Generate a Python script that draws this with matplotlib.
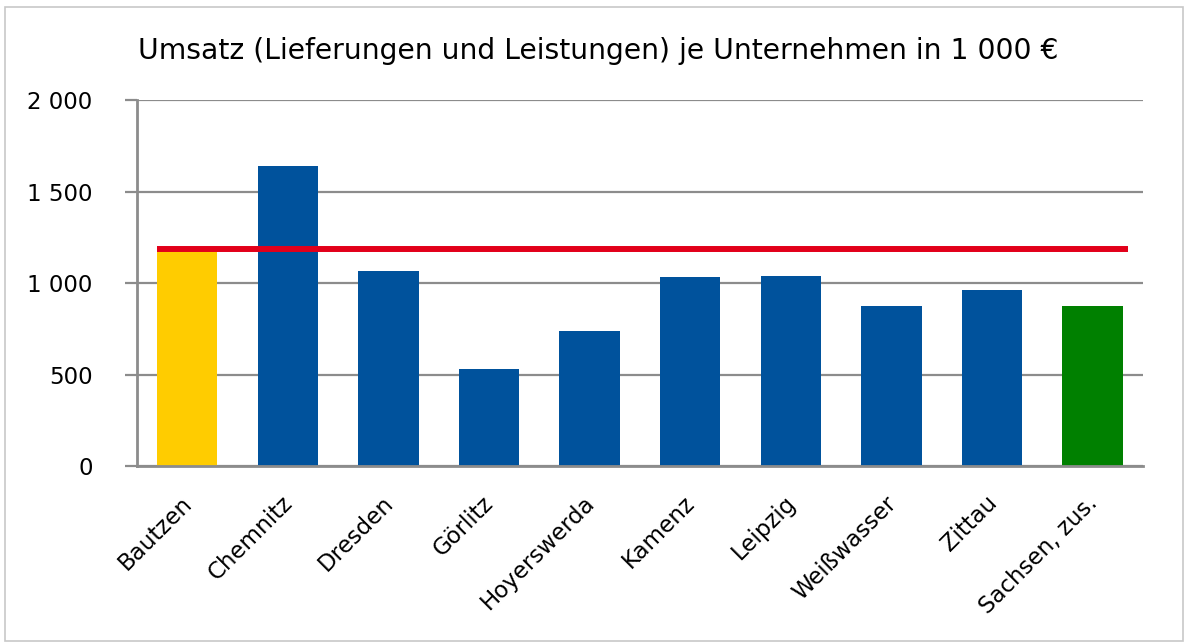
import matplotlib.pyplot as plt
from matplotlib.patches import Rectangle
from matplotlib.transforms import ScaledTranslation

regionen = ['Bautzen', 'Chemnitz', 'Dresden', 'Görlitz', 'Hoyerswerda',
            'Kamenz', 'Leipzig', 'Weißwasser', 'Zittau', 'Sachsen, zus.']
umsatz = [1185, 1640, 1066, 530, 738, 1035, 1040, 874, 962, 874]
y_ticks = [0, 500, 1000, 1500, 2000]
y_labels = ['0', '500', '1 000', '1 500', '2 000']
titel = 'Umsatz (Lieferungen und Leistungen) je Unternehmen in 1 000 €'

farben = ['#FFCC00'] + ['#00529C'] * 8 + ['#008000']

fig = plt.figure(figsize=(11.87, 6.42), dpi=100)
ax = fig.add_axes([0.1154, 0.2741, 0.8475, 0.5701])

x = range(len(regionen))
ax.bar(x, umsatz, width=0.6, color=farben, zorder=2)
# Referenzlinie auf Hoehe von Bautzen
ax.hlines(umsatz[0], -0.3, 9.35, color='#E2001A', linewidth=4.3, zorder=3)

ax.set_xlim(-0.5, len(regionen) - 0.5)
ax.set_ylim(0, 2000)
ax.set_yticks(y_ticks)
ax.set_yticklabels(y_labels, fontsize=16.5)
ax.yaxis.grid(True, color='#8C8C8C', linewidth=1.6, zorder=0)
ax.set_axisbelow(True)
ax.tick_params(axis='y', length=9, width=1.6, color='#8C8C8C', pad=23)
ax.tick_params(axis='x', length=0, pad=14)
ax.set_xticks(list(x))
ax.set_xticklabels(regionen, fontsize=16.5, rotation=45, ha='right',
                   va='top', rotation_mode='anchor')
verschiebung = ScaledTranslation(-0.07, -0.06, fig.dpi_scale_trans)
for lbl in ax.get_xticklabels():
    lbl.set_transform(lbl.get_transform() + verschiebung)
for s in ['top', 'right']:
    ax.spines[s].set_visible(False)
for s in ['left', 'bottom']:
    ax.spines[s].set_color('#8C8C8C')
    ax.spines[s].set_linewidth(2)

fig.text(0.504, 0.92, titel, ha='center', va='center', fontsize=20.3)
fig.patches.append(Rectangle((5 / 1187, 1 / 642), 1178 / 1187, 634 / 642,
                             transform=fig.transFigure, fill=False,
                             edgecolor='#C8C8C8', linewidth=1.2))

fig.savefig('out.png', dpi=100)
